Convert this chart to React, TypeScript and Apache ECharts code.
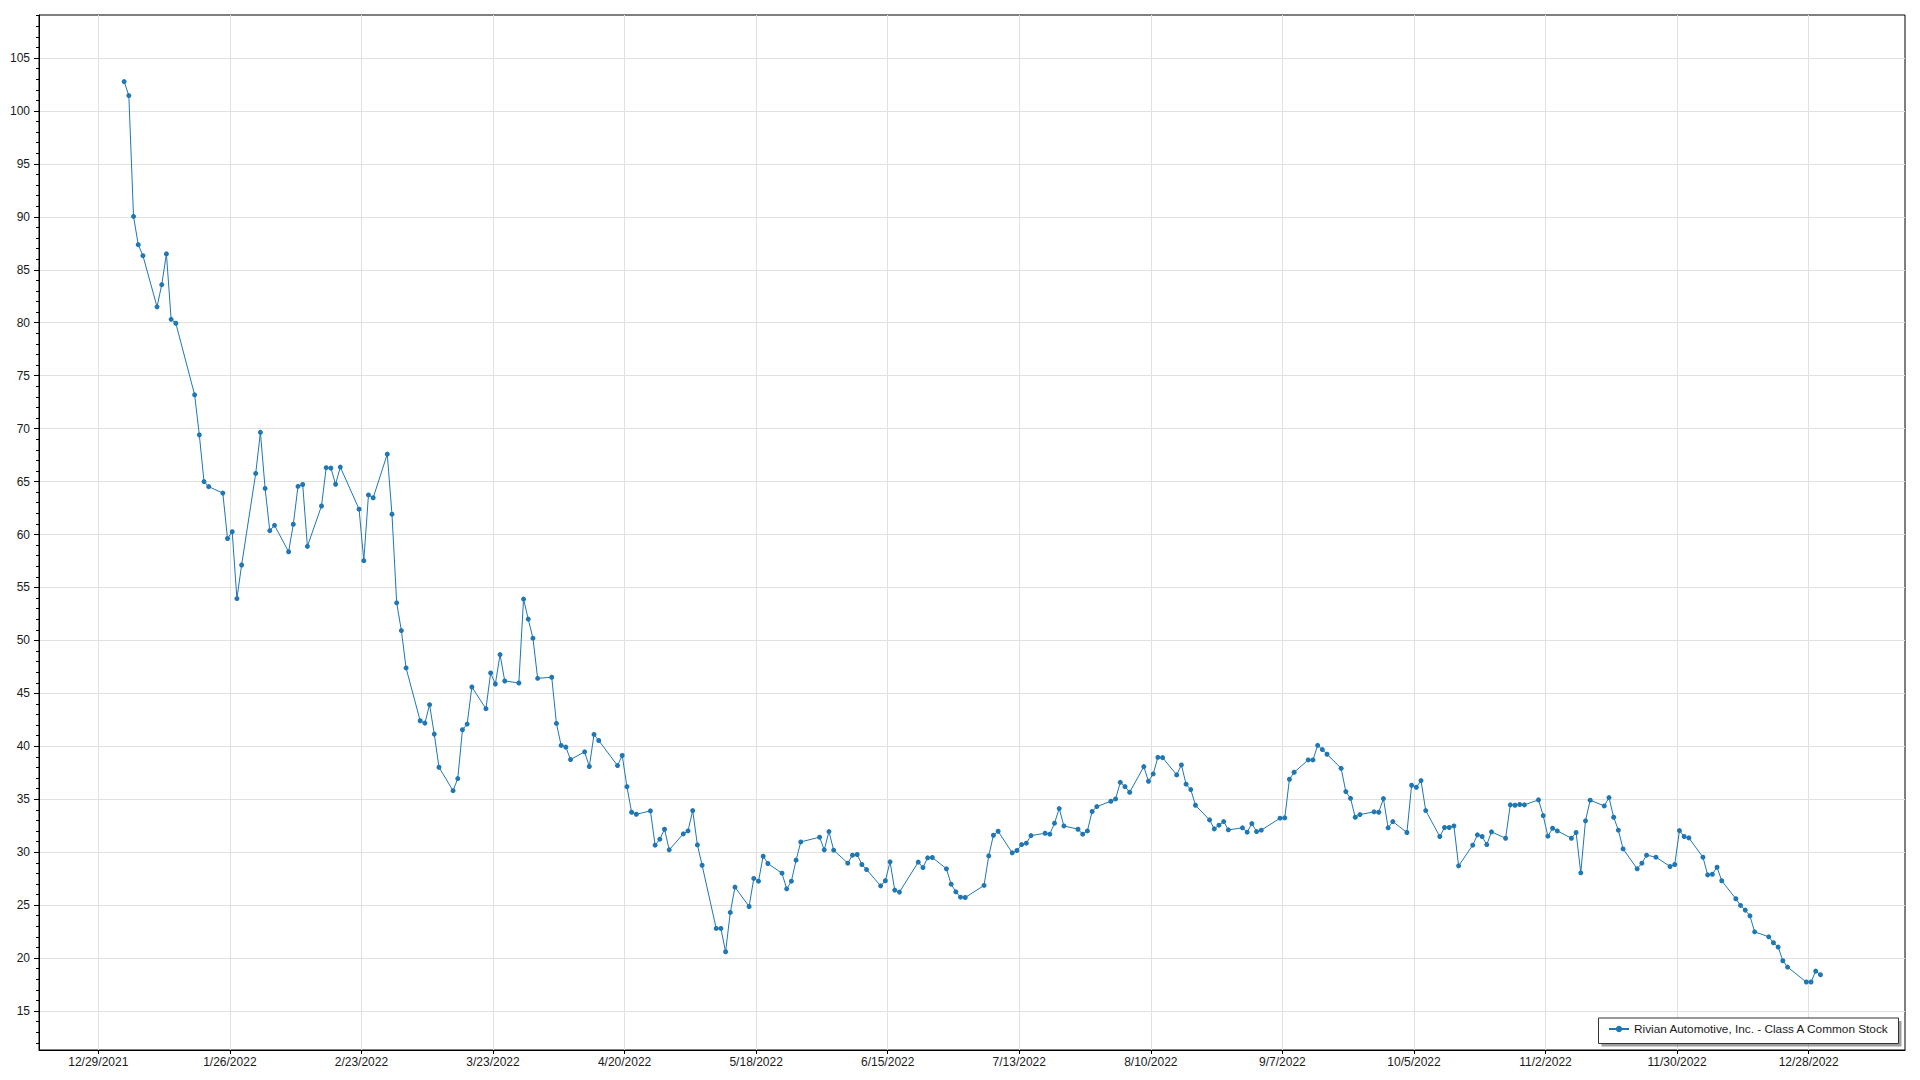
import React, { useEffect, useRef } from "react";
import * as echarts from "echarts";

const SERIES_NAME = "Rivian Automotive, Inc. - Class A Common Stock";

const tradeDates: string[] = [
  "2022-01-03","2022-01-04","2022-01-05","2022-01-06","2022-01-07","2022-01-10","2022-01-11","2022-01-12","2022-01-13","2022-01-14",
  "2022-01-18","2022-01-19","2022-01-20","2022-01-21","2022-01-24","2022-01-25","2022-01-26","2022-01-27","2022-01-28","2022-01-31",
  "2022-02-01","2022-02-02","2022-02-03","2022-02-04","2022-02-07","2022-02-08","2022-02-09","2022-02-10","2022-02-11","2022-02-14",
  "2022-02-15","2022-02-16","2022-02-17","2022-02-18","2022-02-22","2022-02-23","2022-02-24","2022-02-25","2022-02-28",
  "2022-03-01","2022-03-02","2022-03-03","2022-03-04","2022-03-07","2022-03-08","2022-03-09","2022-03-10","2022-03-11","2022-03-14",
  "2022-03-15","2022-03-16","2022-03-17","2022-03-18","2022-03-21","2022-03-22","2022-03-23","2022-03-24","2022-03-25","2022-03-28",
  "2022-03-29","2022-03-30","2022-03-31",
  "2022-04-01","2022-04-04","2022-04-05","2022-04-06","2022-04-07","2022-04-08","2022-04-11","2022-04-12","2022-04-13","2022-04-14",
  "2022-04-18","2022-04-19","2022-04-20","2022-04-21","2022-04-22","2022-04-25","2022-04-26","2022-04-27","2022-04-28","2022-04-29",
  "2022-05-02","2022-05-03","2022-05-04","2022-05-05","2022-05-06","2022-05-09","2022-05-10","2022-05-11","2022-05-12","2022-05-13",
  "2022-05-16","2022-05-17","2022-05-18","2022-05-19","2022-05-20","2022-05-23","2022-05-24","2022-05-25","2022-05-26","2022-05-27",
  "2022-05-31",
  "2022-06-01","2022-06-02","2022-06-03","2022-06-06","2022-06-07","2022-06-08","2022-06-09","2022-06-10","2022-06-13","2022-06-14",
  "2022-06-15","2022-06-16","2022-06-17","2022-06-21","2022-06-22","2022-06-23","2022-06-24","2022-06-27","2022-06-28","2022-06-29",
  "2022-06-30",
  "2022-07-01","2022-07-05","2022-07-06","2022-07-07","2022-07-08","2022-07-11","2022-07-12","2022-07-13","2022-07-14","2022-07-15",
  "2022-07-18","2022-07-19","2022-07-20","2022-07-21","2022-07-22","2022-07-25","2022-07-26","2022-07-27","2022-07-28","2022-07-29",
  "2022-08-01","2022-08-02","2022-08-03","2022-08-04","2022-08-05","2022-08-08","2022-08-09","2022-08-10","2022-08-11","2022-08-12",
  "2022-08-15","2022-08-16","2022-08-17","2022-08-18","2022-08-19","2022-08-22","2022-08-23","2022-08-24","2022-08-25","2022-08-26",
  "2022-08-29","2022-08-30","2022-08-31",
  "2022-09-01","2022-09-02","2022-09-06","2022-09-07","2022-09-08","2022-09-09","2022-09-12","2022-09-13","2022-09-14","2022-09-15",
  "2022-09-16","2022-09-19","2022-09-20","2022-09-21","2022-09-22","2022-09-23","2022-09-26","2022-09-27","2022-09-28","2022-09-29",
  "2022-09-30",
  "2022-10-03","2022-10-04","2022-10-05","2022-10-06","2022-10-07","2022-10-10","2022-10-11","2022-10-12","2022-10-13","2022-10-14",
  "2022-10-17","2022-10-18","2022-10-19","2022-10-20","2022-10-21","2022-10-24","2022-10-25","2022-10-26","2022-10-27","2022-10-28",
  "2022-10-31",
  "2022-11-01","2022-11-02","2022-11-03","2022-11-04","2022-11-07","2022-11-08","2022-11-09","2022-11-10","2022-11-11","2022-11-14",
  "2022-11-15","2022-11-16","2022-11-17","2022-11-18","2022-11-21","2022-11-22","2022-11-23","2022-11-25","2022-11-28","2022-11-29",
  "2022-11-30",
  "2022-12-01","2022-12-02","2022-12-05","2022-12-06","2022-12-07","2022-12-08","2022-12-09","2022-12-12","2022-12-13","2022-12-14",
  "2022-12-15","2022-12-16","2022-12-19","2022-12-20","2022-12-21","2022-12-22","2022-12-23","2022-12-27","2022-12-28","2022-12-29",
  "2022-12-30",
];

const closePrices: number[] = [
  102.77,101.45,90.04,87.37,86.33,81.5,83.59,86.5,80.32,79.95,
  73.19,69.41,65.0,64.52,63.91,59.62,60.26,53.95,57.12,65.77,
  69.65,64.35,60.36,60.87,58.37,60.97,64.55,64.72,58.88,62.69,
  66.31,66.27,64.75,66.37,62.39,57.53,63.74,63.47,67.59,
  61.92,53.55,50.93,47.4,42.41,42.19,43.93,41.15,38.02,35.81,
  36.95,41.56,42.1,45.6,43.55,46.93,45.88,48.66,46.17,45.98,
  53.9,52.01,50.21,
  46.42,46.52,42.16,40.08,39.92,38.75,39.48,38.09,41.12,40.55,
  38.18,39.13,36.19,33.77,33.58,33.9,30.66,31.23,32.17,30.22,
  31.73,32.01,33.93,30.69,28.77,22.8,22.8,20.6,24.31,26.7,
  24.87,27.52,27.26,29.62,28.93,28.02,26.54,27.26,29.25,30.97,
  31.42,
  30.22,31.95,30.19,28.96,29.72,29.78,28.84,28.36,26.82,27.3,
  29.09,26.42,26.23,29.06,28.55,29.47,29.5,28.43,26.98,26.26,
  25.75,
  25.72,26.86,29.65,31.6,31.98,29.94,30.16,30.72,30.85,31.57,
  31.79,31.7,32.74,34.12,32.48,32.17,31.7,32.01,33.84,34.31,
  34.81,35.03,36.6,36.19,35.66,38.08,36.7,37.39,38.96,38.93,
  37.3,38.24,36.42,35.91,34.43,33.05,32.2,32.55,32.89,32.11,
  32.3,31.89,32.7,
  31.95,32.08,33.21,33.24,36.89,37.55,38.71,38.71,40.09,39.69,
  39.25,37.92,35.72,35.09,33.3,33.55,33.81,33.77,35.06,32.3,
  32.89,
  31.86,36.32,36.13,36.76,33.93,31.48,32.33,32.33,32.48,28.71,
  30.66,31.64,31.48,30.72,31.92,31.32,34.47,34.43,34.5,34.47,
  34.94,
  33.46,31.51,32.26,32.01,31.32,31.86,28.05,32.96,34.91,34.37,
  35.16,33.3,32.08,30.31,28.43,28.96,29.72,29.53,28.65,28.84,
  32.04,
  31.48,31.35,29.53,27.86,27.92,28.58,27.3,25.6,24.97,24.53,
  23.99,22.48,22.01,21.45,21.04,19.75,19.15,17.74,17.74,18.77,
  18.43,
];

// y-axis labelled ticks and minor ticks
const yMajorTicks: number[] = [15, 20, 25, 30, 35, 40, 45, 50, 55, 60, 65, 70, 75, 80, 85, 90, 95, 100, 105];
const yMinorTicks: number[] = [
  12, 13, 14, 16, 17, 18, 19, 21, 22, 23, 24, 26, 27, 28, 29, 31, 32, 33, 34, 36, 37, 38, 39,
  41, 42, 43, 44, 46, 47, 48, 49, 51, 52, 53, 54, 56, 57, 58, 59, 61, 62, 63, 64, 66, 67, 68, 69,
  71, 72, 73, 74, 76, 77, 78, 79, 81, 82, 83, 84, 86, 87, 88, 89, 91, 92, 93, 94, 96, 97, 98, 99,
  101, 102, 103, 104, 106, 107, 108, 109,
];
// x-axis tick dates (every 28 days)
const xTickDates: string[] = [
  "2021-12-29", "2022-01-26", "2022-02-23", "2022-03-23", "2022-04-20", "2022-05-18", "2022-06-15",
  "2022-07-13", "2022-08-10", "2022-09-07", "2022-10-05", "2022-11-02", "2022-11-30", "2022-12-28",
];

const Y_MIN = 11.32;
const Y_MAX = 109.06;
const X_START = "2021-12-29";
const X_PAD_BEFORE_DAYS = 12.62;
const X_PAD_AFTER_DAYS = 384.5;

const DAY = 86400000;
const toTs = (s: string, hour = 0) => {
  const [y, m, d] = s.split("-").map(Number);
  return new Date(y, m - 1, d, hour, 0, 0).getTime();
};
const fmtDate = (v: number) => {
  const d = new Date(v);
  return `${d.getMonth() + 1}/${d.getDate()}/${d.getFullYear()}`;
};

const FONT = "'Liberation Sans', Arial, sans-serif";
const BLUE = "#1f77b4";

export default function App() {
  const ref = useRef<HTMLDivElement>(null);

  useEffect(() => {
    if (!ref.current) return;
    const chart = echarts.init(ref.current, undefined, { renderer: "svg" });
    const data = tradeDates.map((d, i) => [toTs(d, 12), closePrices[i]]);
    const x0 = toTs(X_START);
    const xTicks = xTickDates.map((d) => toTs(d));

    const option: any = {
      animation: false,
      backgroundColor: "#ffffff",
      textStyle: { fontFamily: FONT },
      grid: {
        left: 39,
        top: 15,
        width: 1866,
        height: 1035,
        show: true,
        borderColor: "#000",
        borderWidth: 1,
        backgroundColor: "transparent",
        containLabel: false,
      },
      xAxis: {
        type: "value",
        min: x0 - X_PAD_BEFORE_DAYS * DAY,
        max: x0 + X_PAD_AFTER_DAYS * DAY,
        axisLine: { show: true, lineStyle: { color: "#000", width: 1 } },
        axisTick: { show: true, length: 4, inside: false, lineStyle: { color: "#000" }, customValues: xTicks },
        axisLabel: {
          show: true,
          margin: 6,
          color: "#1a1a1a",
          fontSize: 12,
          fontFamily: FONT,
          customValues: xTicks,
          formatter: (v: number) => fmtDate(v),
          showMinLabel: true,
          showMaxLabel: true,
        },
        splitLine: { show: true, lineStyle: { color: "#e1e1e1", width: 1 } },
      },
      yAxis: [
        {
          type: "value",
          min: Y_MIN,
          max: Y_MAX,
          position: "left",
          axisLine: { show: true, lineStyle: { color: "#000", width: 1 } },
          axisTick: { show: true, length: 5, lineStyle: { color: "#000" }, customValues: yMajorTicks },
          axisLabel: {
            show: true,
            margin: 9,
            color: "#1a1a1a",
            fontSize: 12,
            fontFamily: FONT,
            customValues: yMajorTicks,
          },
          splitLine: { show: true, lineStyle: { color: "#e1e1e1", width: 1 } },
        },
        {
          type: "value",
          min: Y_MIN,
          max: Y_MAX,
          position: "left",
          offset: 0,
          axisLine: { show: false },
          axisTick: { show: true, length: 3, lineStyle: { color: "#000" }, customValues: yMinorTicks },
          axisLabel: { show: false },
          splitLine: { show: false },
        },
      ],
      legend: {
        show: true,
        left: 1608,
        top: 1023,
        padding: 0,
        itemWidth: 20,
        itemHeight: 8,
        itemGap: 5,
        textStyle: { fontSize: 11.8, color: "#1a1a1a", fontFamily: FONT },
        z: 20,
        data: [{ name: SERIES_NAME, icon: undefined }],
      },
      graphic: [
        {
          type: "rect",
          z: 5,
          silent: true,
          shape: { x: 1601.5, y: 1021, width: 300, height: 25.5 },
          style: { fill: "rgba(0,0,0,0.38)" },
        },
        {
          type: "rect",
          z: 6,
          silent: true,
          shape: { x: 1598.5, y: 1018, width: 300, height: 25.5 },
          style: { fill: "#ffffff", stroke: "#333333", lineWidth: 1 },
        },
      ],
      series: [
        {
          name: SERIES_NAME,
          type: "line",
          xAxisIndex: 0,
          yAxisIndex: 0,
          data,
          symbol: "circle",
          symbolSize: 5,
          showSymbol: true,
          showAllSymbol: true,
          lineStyle: { color: BLUE, width: 1 },
          itemStyle: { color: BLUE, borderWidth: 0 },
          emphasis: { disabled: true },
          clip: true,
          z: 3,
        },
      ],
    };
    chart.setOption(option);
    return () => chart.dispose();
  }, []);

  return (
    <div
      ref={ref}
      style={{ position: "absolute", left: 0, top: 0, width: 1920, height: 1080, background: "#fff" }}
    />
  );
}
